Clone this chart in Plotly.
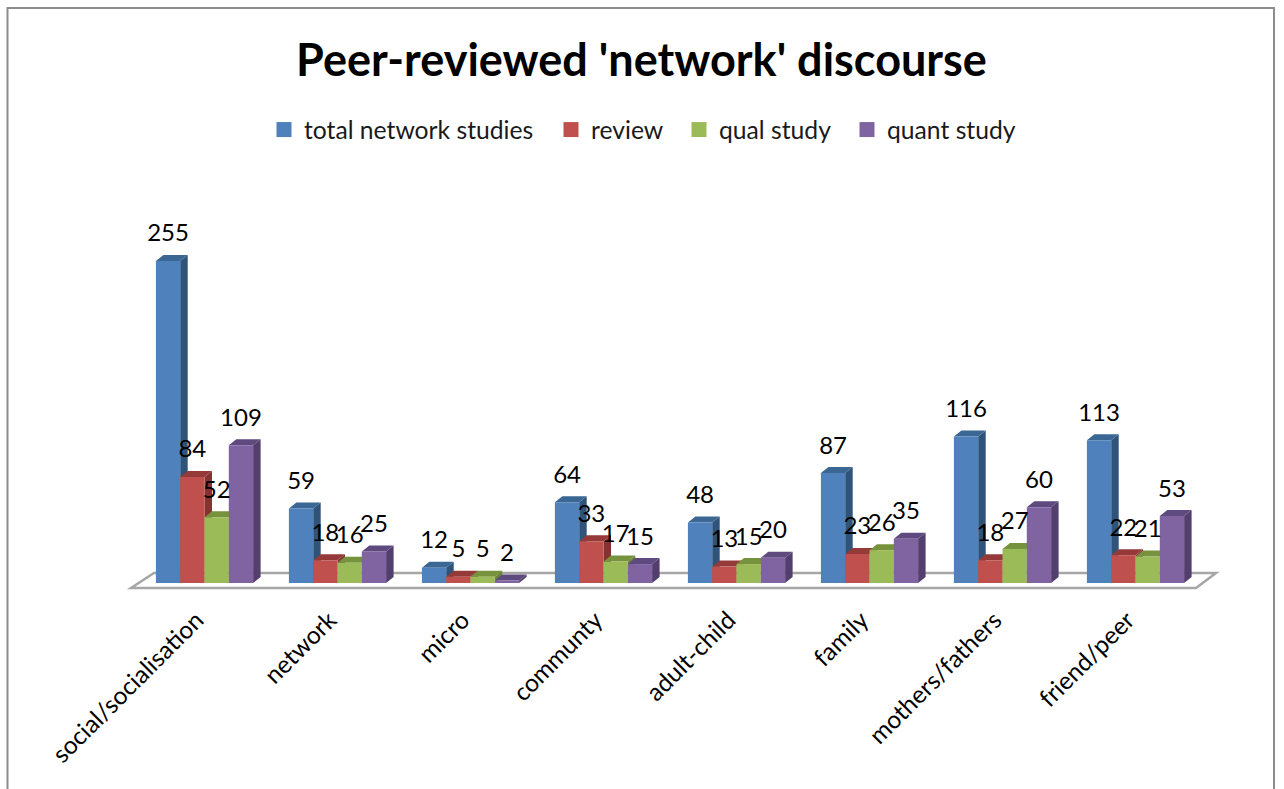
import plotly.graph_objects as go

categories = ["social/socialisation", "network", "micro", "communty", "adult-child", "family", "mothers/fathers", "friend/peer"]
total_network_studies = [255, 59, 12, 64, 48, 87, 116, 113]
review = [84, 18, 5, 33, 13, 23, 18, 22]
qual_study = [52, 16, 5, 17, 15, 26, 27, 21]
quant_study = [109, 25, 2, 15, 20, 35, 60, 53]
series_names = ["total network studies", "review", "qual study", "quant study"]
series_values = [total_network_studies, review, qual_study, quant_study]
front_colors = ["#4F81BD", "#C0504D", "#9BBB59", "#8064A2"]
top_colors = ["#3B6795", "#953A38", "#76923C", "#5F4A7F"]
side_colors = ["#2F5379", "#843331", "#6A8435", "#533F6E"]
legend_text_px = [304, 591, 719, 887]

W, H = 1284, 789
L, R, T, B = 100, 1250, 150, 596
CAT_PX = 133.0
X0_PX = 204.5
BASE_PX = 583.0
PX_PER_UNIT = 1.263
BAR = 24.3 / CAT_PX
DX = 7.5 / CAT_PX
DY = 6.0 / PX_PER_UNIT

def xd(px):
    return (px - X0_PX) / CAT_PX

def yd(py):
    return (BASE_PX - py) / PX_PER_UNIT

fig = go.Figure()
n = len(categories)
legend_layout = {}
for s, (name, vals) in enumerate(zip(series_names, series_values)):
    side_x, side_y, top_x, top_y, lx, ly = [], [], [], [], [], []
    for i, v in enumerate(vals):
        c = i + (s - 1.5) * BAR
        a, b = c - BAR / 2, c + BAR / 2
        side_x += [b, b + DX, b + DX, b, b, None]
        side_y += [0, DY, v + DY, v, 0, None]
        top_x += [a, a + DX, b + DX, b, a, None]
        top_y += [v, v + DY, v + DY, v, v, None]
        lx.append(c)
        ly.append(v + 25.5 / PX_PER_UNIT)
    z = s * 2 + 1
    fig.add_trace(go.Scatter(x=side_x, y=side_y, mode="lines", fill="toself", fillcolor=side_colors[s],
                             line=dict(width=0), showlegend=False, hoverinfo="skip", zorder=z))
    fig.add_trace(go.Scatter(x=top_x, y=top_y, mode="lines", fill="toself", fillcolor=top_colors[s],
                             line=dict(width=0), showlegend=False, hoverinfo="skip", zorder=z))
    fig.add_trace(go.Bar(x=list(range(n)), y=vals, name=name, marker=dict(color=front_colors[s], line=dict(width=0)),
                         showlegend=False, zorder=z + 1))
    fig.add_trace(go.Scatter(x=lx, y=ly, mode="text", text=[str(v) for v in vals], textposition="middle center",
                             textfont=dict(family="Lato", size=24, color="#000000"), showlegend=False,
                             hoverinfo="skip", zorder=20))
    key = "legend" if s == 0 else f"legend{s + 1}"
    fig.add_trace(go.Scatter(x=[None], y=[None], mode="markers", name=name, legend=key, showlegend=True,
                             marker=dict(symbol="square", size=15, color=front_colors[s], line=dict(width=0))))
    legend_layout[key] = dict(x=(legend_text_px[s] - 40 - L) / (R - L), xanchor="left",
                              y=(B - 130) / (B - T), yanchor="middle",
                              font=dict(family="Lato", size=24.7, color="#1a1a1a"),
                              bgcolor="rgba(0,0,0,0)", borderwidth=0)

floor_path = (f"M {xd(131)} {yd(588)} L {xd(154)} {yd(573)} L {xd(1216)} {yd(573)} "
              f"L {xd(1196)} {yd(588)} Z")

fig.update_layout(
    width=W, height=H, autosize=False,
    margin=dict(l=L, r=W - R, t=T, b=H - B, pad=0),
    paper_bgcolor="white", plot_bgcolor="white",
    barmode="group", bargap=1 - 4 * BAR, bargroupgap=0,
    title=dict(text="<b>Peer-reviewed 'network' discourse</b>", x=641.5 / W, xanchor="center",
               y=1 - 60 / H, yanchor="middle", font=dict(family="Lato", size=45, color="#000000")),
    xaxis=dict(range=[xd(L), xd(R)], tickmode="array", tickvals=list(range(n)), ticktext=categories,
               tickangle=-45, ticks="", showline=False, showgrid=False, zeroline=False,
               ticklabelshift=-8, ticklabelstandoff=4,
               tickfont=dict(family="Lato", size=24.5, color="#000000")),
    yaxis=dict(range=[yd(B), yd(T)], visible=False, showgrid=False, zeroline=False),
    shapes=[
        dict(type="path", path=floor_path, xref="x", yref="y", layer="below",
             line=dict(color="#A6A6A6", width=2.5), fillcolor="white"),
        dict(type="rect", xref="paper", yref="paper", layer="below",
             x0=(7.5 - L) / (R - L), x1=(1274 - L) / (R - L),
             y0=(B - 830) / (B - T), y1=(B - 8) / (B - T),
             line=dict(color="#8C8C8C", width=2), fillcolor="rgba(0,0,0,0)"),
    ],
    **legend_layout,
)

fig.write_html("out.html", config={"displayModeBar": False},
               post_script="document.body.style.margin='0';document.body.style.overflow='hidden';")
